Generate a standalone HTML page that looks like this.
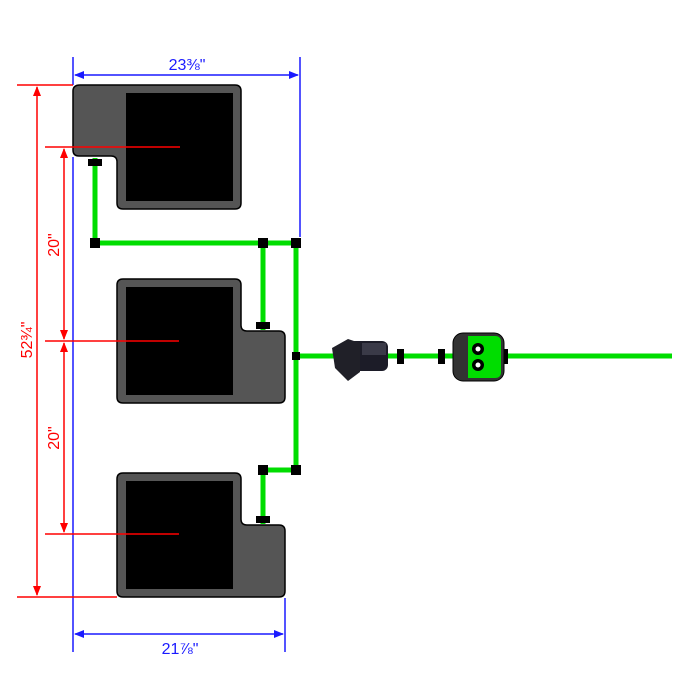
<!DOCTYPE html>
<html><head><meta charset="utf-8"><style>html,body{margin:0;padding:0;background:#fff}svg{display:block}</style></head>
<body>
<svg width="700" height="700" viewBox="0 0 700 700" xmlns="http://www.w3.org/2000/svg" font-family="Liberation Sans, sans-serif">
<defs>
<marker id="ab" markerWidth="10" markerHeight="8" refX="9" refY="4" orient="auto-start-reverse" markerUnits="userSpaceOnUse"><path d="M0,0 L10,4 L0,8Z" fill="#1a1aff"/></marker>
<marker id="ar" markerWidth="10" markerHeight="8" refX="9" refY="4" orient="auto-start-reverse" markerUnits="userSpaceOnUse"><path d="M0,0 L10,4 L0,8Z" fill="#ff0000"/></marker>
</defs>
<g fill="#555" stroke="#000" stroke-width="1.5">
<path d="M80,85 H235 Q241,85 241,91 V203 Q241,209 235,209 H123 Q117,209 117,203 V162 Q117,156 111,156 H79 Q73,156 73,150 V91 Q73,85 80,85Z"/>
<path d="M123,279 H235 Q241,279 241,285 V325 Q241,331 247,331 H279 Q285,331 285,337 V397 Q285,403 279,403 H123 Q117,403 117,397 V285 Q117,279 123,279Z"/>
<path d="M123,473 H235 Q241,473 241,479 V519 Q241,525 247,525 H279 Q285,525 285,531 V591 Q285,597 279,597 H123 Q117,597 117,591 V479 Q117,473 123,473Z"/>
</g>
<rect x="126" y="93" width="107" height="108" fill="#000"/>
<rect x="126" y="287" width="107" height="108" fill="#000"/>
<rect x="126" y="481" width="107" height="108" fill="#000"/>
<g stroke="#00dd00" stroke-width="5" fill="none">
<path d="M95,158 V243 H296"/>
<path d="M263,243 V330"/>
<path d="M296,243 V470 H263 V524"/>
<path d="M296,356 H672"/>
</g>
<g fill="#000">
<rect x="88" y="159" width="14" height="7"/>
<rect x="90" y="238" width="10" height="10"/>
<rect x="258" y="238" width="10" height="10"/>
<rect x="291" y="238" width="10" height="10"/>
<rect x="256" y="322" width="14" height="7"/>
<rect x="292" y="352" width="8" height="8"/>
<rect x="258" y="465" width="10" height="10"/>
<rect x="291" y="465" width="10" height="10"/>
<rect x="256" y="516" width="14" height="7"/>
<rect x="397" y="349" width="7" height="15"/>
<rect x="438" y="349" width="7" height="15"/>
<rect x="501" y="349" width="7" height="15"/>
</g>
<rect x="345" y="341" width="43" height="30" rx="6" fill="#1c1c28"/>
<path d="M332,348 L348,339 L360,343 L360,372 L348,381 L335,368 Z" fill="#202028"/>
<rect x="362" y="343" width="24" height="12" fill="#3a3a48"/>
<rect x="453" y="333" width="51" height="48" rx="10" fill="#333" stroke="#000" stroke-width="1"/>
<path d="M468,336 H495 Q501,336 501,342 V372 Q501,378 495,378 H468Z" fill="#00dd00"/>
<circle cx="478" cy="349" r="6" fill="#000"/><circle cx="478" cy="349" r="2.5" fill="#fff"/>
<circle cx="478" cy="365" r="6" fill="#000"/><circle cx="478" cy="365" r="2.5" fill="#fff"/>
<g stroke="#1a1aff" stroke-width="1.5">
<line x1="73" y1="57" x2="73" y2="85"/>
<line x1="73" y1="157" x2="73" y2="652"/>
<line x1="300" y1="57" x2="300" y2="237"/>
<line x1="285" y1="598" x2="285" y2="652"/>
<line x1="75" y1="75" x2="298" y2="75" marker-start="url(#ab)" marker-end="url(#ab)"/>
<line x1="75" y1="634" x2="283" y2="634" marker-start="url(#ab)" marker-end="url(#ab)"/>
</g>
<text x="187" y="70" fill="#1a1aff" font-size="16" text-anchor="middle">23⅜"</text>
<text x="180" y="654" fill="#1a1aff" font-size="16" text-anchor="middle">21⅞"</text>
<g stroke="#ff0000" stroke-width="1.5">
<line x1="17" y1="85" x2="73" y2="85"/>
<line x1="17" y1="597" x2="117" y2="597"/>
<line x1="37" y1="87" x2="37" y2="595" marker-start="url(#ar)" marker-end="url(#ar)"/>
<line x1="45" y1="147" x2="180" y2="147"/>
<line x1="45" y1="341" x2="179" y2="341"/>
<line x1="45" y1="534" x2="179" y2="534"/>
<line x1="64" y1="149" x2="64" y2="339" marker-start="url(#ar)" marker-end="url(#ar)"/>
<line x1="64" y1="343" x2="64" y2="532" marker-start="url(#ar)" marker-end="url(#ar)"/>
</g>
<text transform="translate(32,340) rotate(-90)" fill="#ff0000" font-size="16" text-anchor="middle">52¾"</text>
<text transform="translate(59,245) rotate(-90)" fill="#ff0000" font-size="16" text-anchor="middle">20"</text>
<text transform="translate(59,438) rotate(-90)" fill="#ff0000" font-size="16" text-anchor="middle">20"</text>
</svg>
</body></html>
